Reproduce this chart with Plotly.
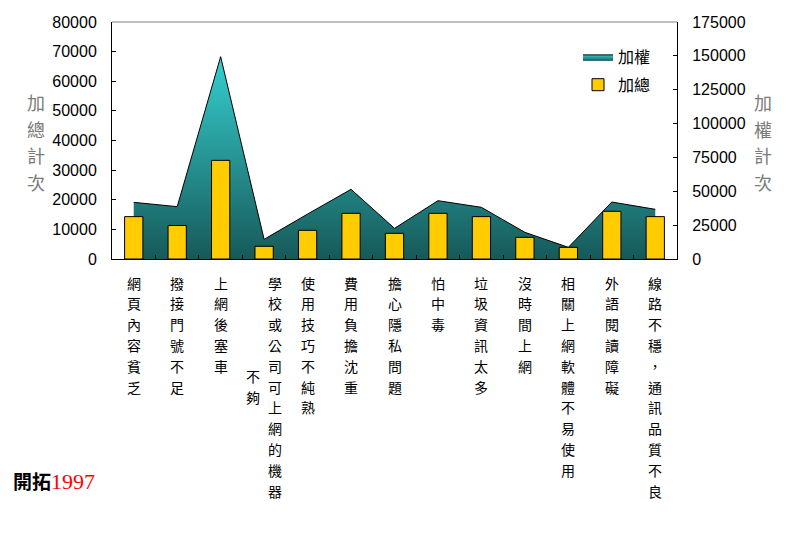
import plotly.graph_objects as go

# ---------------- data ----------------
categories = [
    "網頁內容貧乏",
    "撥接門號不足",
    "上網後塞車",
    "學校或公司可上網的機器不夠",
    "使用技巧不純熟",
    "費用負擔沈重",
    "擔心隱私問題",
    "怕中毒",
    "垃圾資訊太多",
    "沒時間上網",
    "相關上網軟體不易使用",
    "外語閱讀障礙",
    "線路不穩，通訊品質不良",
]
total_counts = [14300, 11300, 33300, 4280, 9680, 15420, 8670, 15420, 14300, 7310, 3940, 16100, 14300]
weighted_counts = [41850, 38640, 149400, 14530, 33200, 51440, 22650, 43060, 38150, 19690, 8620, 42090, 36680]

series_names = ["加權", "加總"]
left_title = "加總計次"
right_title = "加權計次"
footer_black = "開拓"
footer_red = "1997"

# ---------------- layout constants ----------------
# page body has an 8px margin, so the figure is shrunk/shifted to compensate
OFF = 8
W, H = 797 - OFF, 537 - OFF
PLOT_L, PLOT_R, PLOT_T, PLOT_B = 112, 677, 22, 259   # page pixels of plot area
L, T = PLOT_L - OFF, PLOT_T - OFF
R = 797 - PLOT_R
B = H - (PLOT_B - OFF)
PW, PH = PLOT_R - PLOT_L, PLOT_B - PLOT_T
CJK = "Noto Sans CJK TC"


def px_x(p):
    return (p - PLOT_L) / PW


def px_y(p):
    return (PLOT_B - p) / PH


fig = go.Figure()

fig.add_trace(go.Scatter(
    x=categories, y=weighted_counts, name=series_names[0],
    mode="lines", line=dict(color="black", width=1),
    fill="tozeroy",
    fillgradient=dict(type="vertical",
                      colorscale=[[0, "#175959"], [1, "#36CFCF"]],
                      start=0, stop=max(weighted_counts)),
    yaxis="y", legendgroup="a",
))
fig.add_trace(go.Bar(
    x=categories, y=total_counts, name=series_names[1],
    marker=dict(color="#FFCC00", line=dict(color="black", width=1)),
    yaxis="y2", legendgroup="b",
))

axis_common = dict(
    showgrid=False, zeroline=False, showline=True, linecolor="black", linewidth=1,
    ticks="inside", ticklen=4, tickcolor="black", tickformat="d", automargin=False,
    tickfont=dict(family="Liberation Sans, Arial", size=16, color="black"),
    ticklabelstandoff=11,
)

annotations = []
# category labels, written vertically
MAX_ROWS = 11
ROW_GAP = 20.8
FIRST_ROW = 23.5
COL_GAP = 22
for label in categories:
    cols = [label[k:k + MAX_ROWS] for k in range(0, len(label), MAX_ROWS)]
    n = len(cols)
    for c, col in enumerate(cols):
        xshift = ((n - 1) / 2 - c) * COL_GAP
        offset = (len(cols[0]) - len(col)) / 2 if c > 0 else 0
        for r, ch in enumerate(col):
            annotations.append(dict(
                x=label, xref="x", y=0, yref="paper",
                xanchor="center", yanchor="middle",
                xshift=xshift, yshift=-(FIRST_ROW + (r + offset) * ROW_GAP),
                text=ch, showarrow=False,
                font=dict(family=CJK, size=14, color="black"),
            ))

# axis titles (stacked characters)
for title, xp in ((left_title, 36), (right_title, 763)):
    for r, ch in enumerate(title):
        annotations.append(dict(
            x=px_x(xp), xref="paper", y=px_y(102 + r * 26.7), yref="paper",
            xanchor="center", yanchor="middle", text=ch, showarrow=False,
            font=dict(family=CJK, size=18, color="#7a7a7a"),
        ))

# footer
annotations.append(dict(
    x=px_x(11), xref="paper", y=px_y(480), yref="paper",
    xanchor="left", yanchor="middle", showarrow=False,
    text=("<b>" + footer_black + "</b>"
          "<span style='color:red;font-family:Liberation Serif;font-size:22px'>"
          + footer_red + "</span>"),
    font=dict(family=CJK, size=19, color="black"),
))

fig.update_layout(
    width=W, height=H,
    margin=dict(l=L, r=R, t=T, b=B, pad=0, autoexpand=False),
    paper_bgcolor="white", plot_bgcolor="white",
    bargap=0.58,
    showlegend=True,
    legend=dict(x=px_x(578), y=px_y(40), xanchor="left", yanchor="top",
                font=dict(family=CJK, size=16, color="black"),
                bgcolor="rgba(0,0,0,0)", tracegroupgap=4, itemwidth=30),
    xaxis=dict(type="category", showticklabels=False, ticks="inside", ticklen=4,
               tickcolor="black", tickson="boundaries", showline=True,
               linecolor="black", linewidth=1, showgrid=False, zeroline=False,
               automargin=False, range=[-0.5, len(categories) - 0.5]),
    yaxis=dict(side="right", range=[0, 175000], dtick=25000, **axis_common),
    yaxis2=dict(side="left", overlaying="y", range=[0, 80000], dtick=10000, **axis_common),
    shapes=[dict(type="line", xref="paper", yref="paper", x0=0, x1=1, y0=1, y1=1,
                 line=dict(color="#808080", width=1))],
    annotations=annotations,
)

fig.write_html("out.html")
